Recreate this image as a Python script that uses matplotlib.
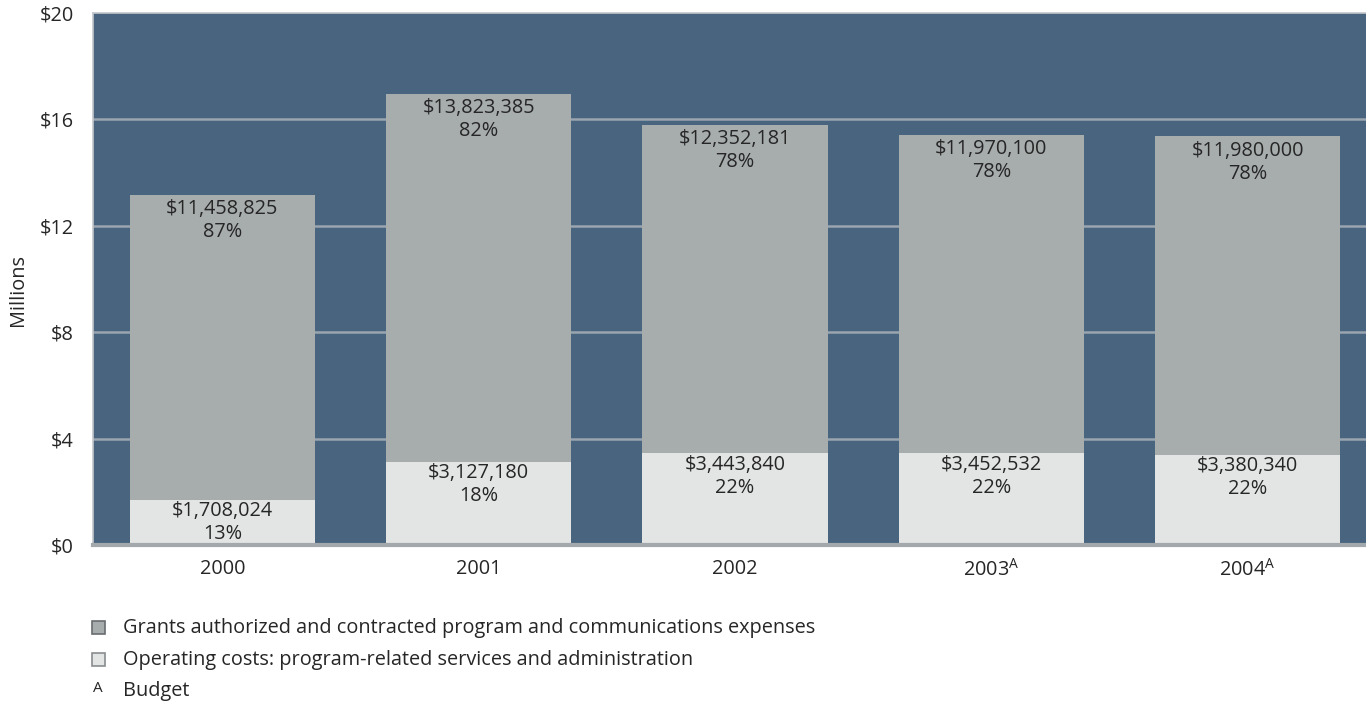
import matplotlib
matplotlib.use("Agg")
import matplotlib.pyplot as plt
from matplotlib.patches import Rectangle

plt.rcParams["font.family"] = ["Open Sans", "DejaVu Sans"]
plt.rcParams["mathtext.fontset"] = "custom"
plt.rcParams["mathtext.rm"] = "Open Sans"

years = ["2000", "2001", "2002", "2003", "2004"]
budget_flags = [False, False, False, True, True]
operating = [1708024, 3127180, 3443840, 3452532, 3380340]
grants = [11458825, 13823385, 12352181, 11970100, 11980000]
yticks = [0, 4, 8, 12, 16, 20]
legend_labels = [
    "Grants authorized and contracted program and communications expenses",
    "Operating costs: program-related services and administration",
    "Budget",
]

BG = "#48647f"
GRANT_C = "#a7acac"
OPER_C = "#e3e5e4"
TEXT_C = "#262626"
GRID_C = "#9aa5b0"
FS = 14.3

fig = plt.figure(figsize=(13.66, 7.02), dpi=100)
ax = fig.add_axes([93 / 1366, 1 - 545 / 702, 1 - 93 / 1366, (545 - 13) / 702])
ax.set_facecolor(BG)

x = list(range(len(years)))
op_m = [v / 1e6 for v in operating]
gr_m = [v / 1e6 for v in grants]
width = 0.722

ax.bar(x, op_m, width=width, color=OPER_C, zorder=3)
ax.bar(x, gr_m, width=width, bottom=op_m, color=GRANT_C, zorder=3)

for i in x:
    total = operating[i] + grants[i]
    gp = round(100 * grants[i] / total)
    op = round(100 * operating[i] / total)
    ax.annotate(f"${grants[i]:,}\n{gp}%", xy=(i, op_m[i] + gr_m[i]),
                xytext=(0, -3), textcoords="offset points", ha="center", va="top",
                fontsize=FS, color=TEXT_C, linespacing=1.2, zorder=4)
    ax.annotate(f"${operating[i]:,}\n{op}%", xy=(i, op_m[i]),
                xytext=(0, -1), textcoords="offset points", ha="center", va="top",
                fontsize=FS, color=TEXT_C, linespacing=1.2, zorder=4)

ax.set_xlim(-0.505, 4.462)
ax.set_ylim(0, 20)
ax.set_yticks(yticks)
ax.set_yticklabels([f"${t}" for t in yticks], fontsize=FS, color=TEXT_C)
ax.set_xticks(x)
ax.set_xticklabels([y + (r"$^{\mathrm{A}}$" if b else "") for y, b in zip(years, budget_flags)],
                   fontsize=FS, color=TEXT_C)
ax.tick_params(axis="both", length=0)
ax.tick_params(axis="y", pad=14)
ax.tick_params(axis="x", pad=10)

for t in [4, 8, 12, 16]:
    ax.axhline(t, color=GRID_C, lw=1.8, zorder=2)

for side in ["top", "left"]:
    ax.spines[side].set_color("#c3c7cb")
    ax.spines[side].set_linewidth(1.2)
ax.spines["right"].set_visible(False)
ax.spines["bottom"].set_color("#a3a8ac")
ax.spines["bottom"].set_linewidth(3)
ax.spines["bottom"].set_zorder(5)


# figure-pixel helpers for the side label and the legend
def fx(px):
    return px / 1366


def fy(py):
    return 1 - py / 702


fig.text(fx(18), fy(290), "Millions", rotation=90, fontsize=FS, color=TEXT_C,
         ha="center", va="center")

sq = 13
for ypx, fc, ec in [(627, GRANT_C, "#6a6d6f"), (659, OPER_C, "#8a8d8f")]:
    fig.patches.append(Rectangle((fx(92), fy(ypx + sq / 2)), sq / 1366, sq / 702,
                                 transform=fig.transFigure, facecolor=fc,
                                 edgecolor=ec, lw=1.2))
fig.text(fx(123), fy(628), legend_labels[0], fontsize=FS, color=TEXT_C, va="center")
fig.text(fx(123), fy(660), legend_labels[1], fontsize=FS, color=TEXT_C, va="center")
fig.text(fx(93), fy(688), "A", fontsize=11, color=TEXT_C, va="center")
fig.text(fx(123), fy(691), legend_labels[2], fontsize=FS, color=TEXT_C, va="center")

fig.savefig("out.png", dpi=100)
